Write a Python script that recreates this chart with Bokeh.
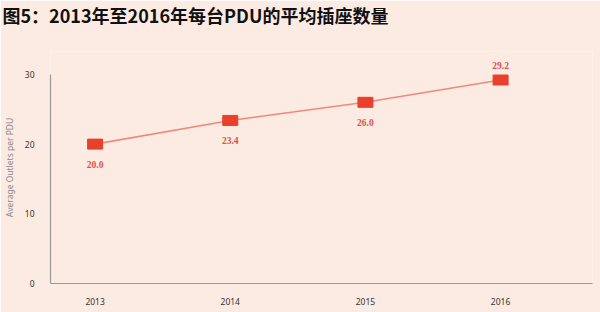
from bokeh.plotting import figure
from bokeh.models import ColumnDataSource, Range1d, FixedTicker, LabelSet
from bokeh.embed import file_html
from bokeh.resources import INLINE

years = [2013, 2014, 2015, 2016]
outlets = [20.0, 23.4, 26.0, 29.2]
labels = ["20.0", "23.4", "26.0", "29.2"]
label_pos = ["below", "below", "below", "above"]
y_ticks = [0, 10, 20, 30]

bg = "#fcebe2"
p = figure(width=600, height=312, output_backend="svg", toolbar_location=None,
           x_range=Range1d(2012.67, 2016.68), y_range=Range1d(0, 33.29),
           min_border_left=48, min_border_right=8, min_border_top=50, min_border_bottom=29,
           background_fill_color=bg, border_fill_color=bg, outline_line_color=None)

p.title.text = "图5：2013年至2016年每台PDU的平均插座数量\n"
p.title.text_font = "Noto Sans CJK SC"
p.title.text_font_style = "bold"
p.title.text_font_size = "18px"
p.title.text_line_height = 0.9
p.title.text_color = "#111111"
p.title.offset = -48
p.title.standoff = 0

p.grid.visible = False
for ax in (p.xaxis, p.yaxis):
    ax.axis_line_color = "#9a9a9a"
    ax.axis_line_width = 1.2
    ax.major_tick_line_color = None
    ax.minor_tick_line_color = None
    ax.major_label_text_color = "#333333"
    ax.major_label_text_font = "Noto Sans"
    ax.major_label_text_font_size = "8.5px"
p.xaxis.ticker = FixedTicker(ticks=years)
p.yaxis.ticker = FixedTicker(ticks=y_ticks)
p.yaxis.bounds = (0, 30)
p.xaxis.major_label_standoff = 8
p.yaxis.major_label_standoff = 10
p.yaxis.axis_label = "Average Outlets per PDU"
p.yaxis.axis_label_text_font = "Noto Sans"
p.yaxis.axis_label_text_font_style = "normal"
p.yaxis.axis_label_text_font_size = "8.5px"
p.yaxis.axis_label_text_color = "#888888"
p.yaxis.axis_label_standoff = 7

src = ColumnDataSource(dict(x=years, y=outlets, t=labels,
                            dy=[-20 if s == "below" else 15 for s in label_pos]))
p.line("x", "y", source=src, line_color="#f2887a", line_width=1.6)
p.rect("x", "y", width=15, height=10, width_units="screen", height_units="screen",
       source=src, fill_color="#e8402c", line_color="#e8402c")

ls = LabelSet(x="x", y="y", text="t", y_offset="dy", source=src,
              text_align="center", text_baseline="middle",
              text_font="Noto Sans CJK SC", text_font_style="bold",
              text_font_size="9.5px", text_color="#e05048")
p.add_layout(ls)

open("out.html", "w").write(file_html(p, INLINE))
